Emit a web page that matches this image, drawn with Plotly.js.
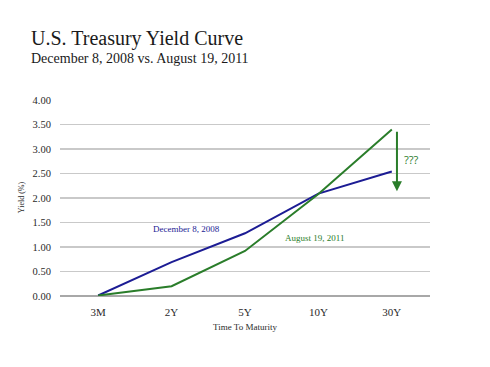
<!DOCTYPE html>
<html><head><meta charset="utf-8">
<script src="https://cdn.plot.ly/plotly-3.0.1.min.js"></script>
<style>html,body{margin:0;padding:0;background:#fff;}</style>
</head><body><div id="chart" style="width:490px;height:367px;"></div>
<script>
const maturities = ["3M", "2Y", "5Y", "10Y", "30Y"];
const dec2008 = [0.01, 0.69, 1.28, 2.09, 2.54];
const aug2011 = [0.01, 0.20, 0.92, 2.08, 3.40];
const yTicks = [0, 0.5, 1, 1.5, 2, 2.5, 3, 3.5, 4];
const yTickText = ["0.00","0.50","1.00","1.50","2.00","2.50","3.00","3.50","4.00"];
const serif = "Liberation Serif, Georgia, serif";
const blue = "#1c1c94", green = "#2a7d2a";

const traces = [
  {x: maturities, y: dec2008, type: "scatter", mode: "lines", line: {color: blue, width: 2}, hoverinfo: "skip"},
  {x: maturities, y: aug2011, type: "scatter", mode: "lines", line: {color: green, width: 2}, hoverinfo: "skip"}
];
const layout = {
  width: 490, height: 367,
  margin: {l: 60, r: 60, t: 99, b: 71},
  showlegend: false,
  paper_bgcolor: "#fff", plot_bgcolor: "#fff",
  font: {family: serif, color: "#333", size: 10},
  xaxis: {
    type: "category", range: [-0.52, 4.52], showgrid: false, zeroline: false,
    ticks: "outside", ticklen: 6, tickcolor: "rgba(0,0,0,0)",
    tickfont: {family: serif, size: 11, color: "#2a2a2a"},
    title: {text: "Time To Maturity", font: {family: serif, size: 9, color: "#2a2a2a"}, standoff: 6}
  },
  yaxis: {
    range: [0, 4.02], tickvals: yTicks, ticktext: yTickText,
    showgrid: true, gridcolor: "#c9c9c9", gridwidth: 1.6,
    zeroline: true, zerolinecolor: "#a8a8a8", zerolinewidth: 1.6,
    ticks: "outside", ticklen: 6, tickcolor: "rgba(0,0,0,0)",
    tickfont: {family: serif, size: 10.5, color: "#2a2a2a"},
    title: {text: "Yield (%)", font: {family: serif, size: 8, color: "#2a2a2a"}, standoff: 6}
  },
  annotations: [
    {xref: "paper", yref: "paper", x: -0.085, y: 1.305, xanchor: "left", yanchor: "middle",
     text: "U.S. Treasury Yield Curve", showarrow: false, font: {family: serif, size: 20, color: "#1a1a1a"}},
    {xref: "paper", yref: "paper", x: -0.085, y: 1.205, xanchor: "left", yanchor: "middle",
     text: "December 8, 2008 vs. August 19, 2011", showarrow: false, font: {family: serif, size: 14, color: "#1a1a1a"}},
    {xref: "x", yref: "y", x: 1.2, y: 1.36, text: "December 8, 2008", showarrow: false,
     font: {family: serif, size: 9, color: blue}},
    {xref: "x", yref: "y", x: 2.94, y: 1.18, text: "August 19, 2011", showarrow: false,
     font: {family: serif, size: 9, color: green}},
    {xref: "x", yref: "y", x: 4.07, y: 2.14, ax: 4.07, ay: 3.38, axref: "x", ayref: "y",
     text: "", showarrow: true, arrowhead: 2, arrowsize: 1, arrowwidth: 2, arrowcolor: green},
    {xref: "x", yref: "y", x: 4.26, y: 2.78, text: "???", showarrow: false,
     font: {family: "Open Sans, sans-serif", size: 11, color: green}}
  ]
};
Plotly.newPlot("chart", traces, layout, {displayModeBar: false, staticPlot: true});
</script>
</body></html>
